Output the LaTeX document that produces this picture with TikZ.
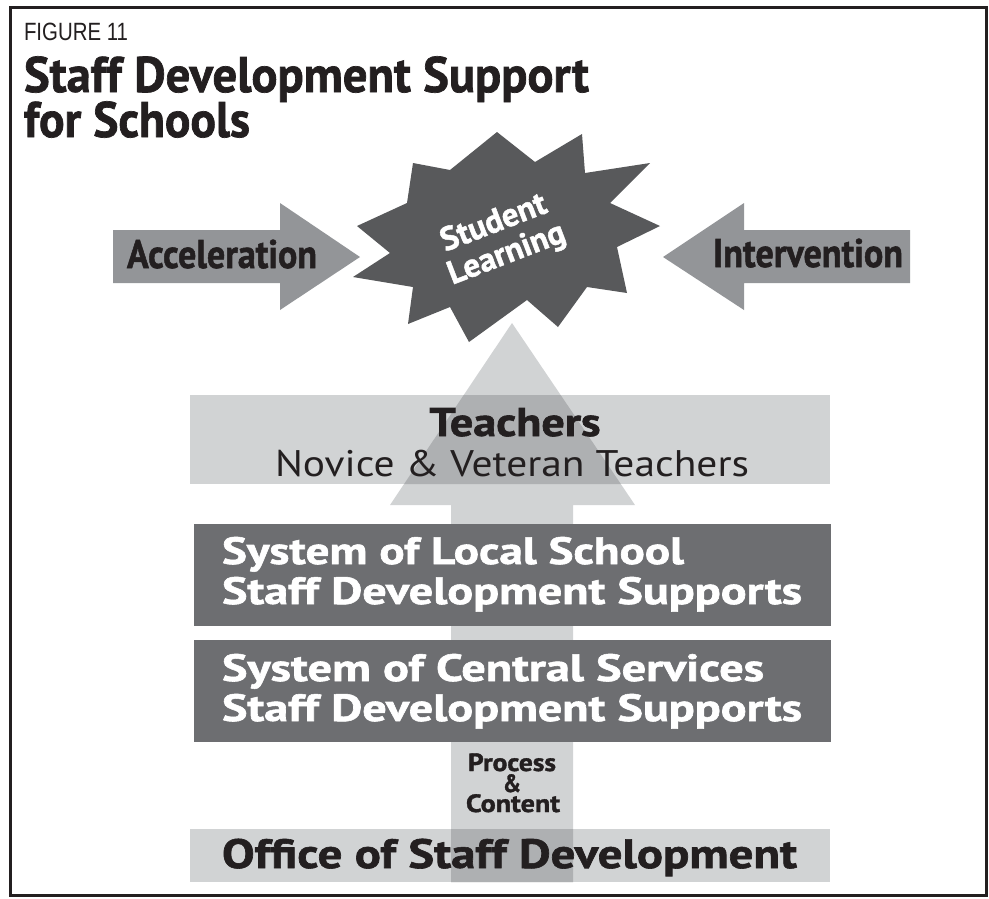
\documentclass[tikz,border=0pt]{standalone}
\usepackage{fontspec}
\usepackage{graphicx}
\setmainfont{PT Sans}
\newfontfamily\heavy{PT Sans}[BoldFeatures={FakeBold=1.4}]
\newfontfamily\condfont{Liberation Sans}
\usetikzlibrary{calc}

\definecolor{ink}{HTML}{231F20}
\definecolor{sidegray}{HTML}{939598}
\definecolor{burst}{HTML}{58595B}
\definecolor{pale}{HTML}{D1D3D4}
\definecolor{paleover}{HTML}{AEB0B2}
\definecolor{slate}{HTML}{6D6E71}

% squeeze or widen a text to a given width, keeping its height
\newcommand\stretchto[2]{\resizebox{#1}{\height}{#2}}
\newcommand\fs[1]{\fontsize{#1}{#1}\selectfont}
\newcommand\hb{\heavy\bfseries}
% outline of the big upward arrow
\newcommand\uparrowshape{(451,882) -- (451,505) -- (390,505) -- (512,323) -- (635,505) -- (573,505) -- (573,882) -- cycle}

\begin{document}
\begin{tikzpicture}[x=1pt,y=-1pt,
  txt/.style={inner sep=0pt, outer sep=0pt, text=ink},
  bursttxt/.style={inner sep=0pt, outer sep=0pt, text=white, rotate=21, font=\hb\fs{33}},
  band/.style={fill=pale, inner sep=0pt, outer sep=0pt, anchor=north west},
  slatebox/.style={fill=slate, inner sep=0pt, outer sep=0pt, anchor=north west,
    minimum width=637pt, minimum height=102pt},
  sidearrow/.style={fill=sidegray},
]
\useasboundingbox (0,0) rectangle (989,898);

% outer frame
\draw[ink, line width=3pt] (10,7) rectangle (986,895);

% heading
\node[txt, anchor=base west] (fig) at (24,40) {\stretchto{104pt}{\condfont\fs{25}FIGURE 11}};
\node[txt, anchor=base west] (title1) at (24,92) {\stretchto{565pt}{\hb\fs{50}Staff Development Support}};
\node[txt, anchor=base west] (title2) at (24,137) {\stretchto{226pt}{\hb\fs{50}for Schools}};

% pale bands
\node[band, minimum width=640pt, minimum height=89pt] (teachband) at (190,395) {};
\node[band, minimum width=640pt, minimum height=53pt] (officeband) at (190,829) {};

% upward arrow and its overlaps with the bands
\fill[pale] \uparrowshape;
\begin{scope}
  \clip (teachband.north west) rectangle (teachband.south east)
        (officeband.north west) rectangle (officeband.south east);
  \fill[paleover] \uparrowshape;
\end{scope}

% dark boxes
\node[slatebox] (localbox) at (194,524) {};
\node[slatebox] (centralbox) at (194,640) {};

% side arrows
\fill[sidearrow] (113,230) -- (280,230) -- (280,203) -- (360,257) -- (280,310) -- (280,283) -- (113,283) -- cycle;
\fill[sidearrow] (910,230) -- (744,230) -- (744,203) -- (663,257) -- (744,310) -- (744,283) -- (910,283) -- cycle;

% burst
\fill[burst] (497,132) -- (535,162) -- (582,134) -- (585,173) -- (650,163) -- (610,203)
  -- (660,226) -- (617,247) -- (627,293) -- (587,287) -- (558,327) -- (527,300)
  -- (469,342) -- (450,307) -- (408,324) -- (413,287) -- (353,277) -- (390,253)
  -- (357,226) -- (407,203) -- (413,163) -- (450,170) -- cycle;

% texts
\node[bursttxt] (student) at (493,221) {Student};
\node[bursttxt] (learning) at (507,255) {Learning};
\node[txt, anchor=base west] (accel) at (127,268) {\stretchto{190pt}{\hb\fs{40}Acceleration}};
\node[txt, anchor=base west] (interv) at (713,267) {\stretchto{190pt}{\hb\fs{40}Intervention}};

\node[txt, anchor=base] (teach) at (515,436) {\stretchto{171pt}{\hb\fs{40}Teachers}};
\node[txt, anchor=base west] (novice) at (275,476) {\stretchto{474pt}{\fs{37}Novice \& Veteran Teachers}};

\node[txt, text=white, anchor=base west] (local1) at (222,564) {\stretchto{462pt}{\hb\fs{38}System of Local School}};
\node[txt, text=white, anchor=base west] (local2) at (222,604) {\stretchto{580pt}{\hb\fs{38}Staff Development Supports}};
\node[txt, text=white, anchor=base west] (central1) at (222,681) {\stretchto{542pt}{\hb\fs{38}System of Central Services}};
\node[txt, text=white, anchor=base west] (central2) at (222,721) {\stretchto{580pt}{\hb\fs{38}Staff Development Supports}};

\node[txt, anchor=base] (proc) at (512,771) {\stretchto{88pt}{\hb\fs{25}Process}};
\node[txt, anchor=base] (amp) at (512,792) {\stretchto{18pt}{\hb\fs{25}\&}};
\node[txt, anchor=base] (cont) at (513,812) {\stretchto{94pt}{\hb\fs{25}Content}};

\node[txt, anchor=base west] (office) at (222,868) {\stretchto{575pt}{\hb\fs{41}Office of Staff Development}};
\end{tikzpicture}
\end{document}
